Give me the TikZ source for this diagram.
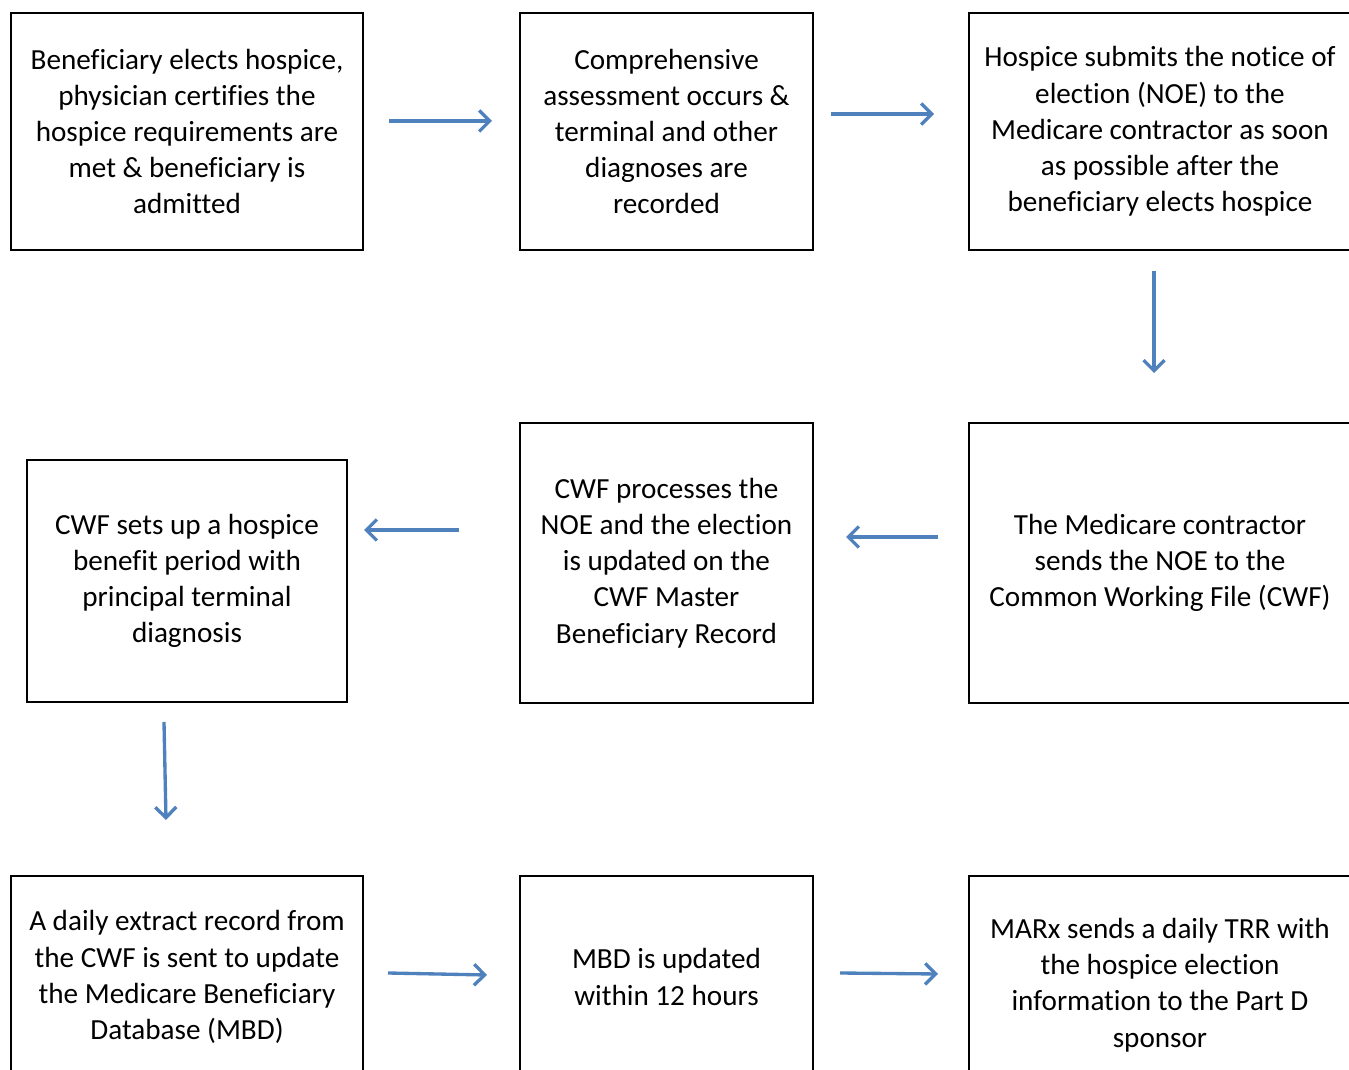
\documentclass[tikz,border=0pt]{standalone}
\usepackage{fontspec}
\setmainfont{Carlito}[Ligatures=NoCommon]
\usetikzlibrary{arrows.meta}
\definecolor{flowblue}{HTML}{4F81BD}
\tikzset{
 stepbox/.style={draw=black,line width=1.2pt,inner sep=0pt,align=center,
  font=\fontsize{16.6}{20.6}\selectfont},
 flow/.style={draw=flowblue,line width=1.9pt,-{Straight Barb[length=6pt,width=12pt,line width=1.9pt]}}
}
\begin{document}
\begin{tikzpicture}[x=0.02cm,y=-0.02cm]
 \useasboundingbox (0,0) rectangle (1349,1070);
 \clip (0,0) rectangle (1349,1070);
 % first row
 \node[stepbox,minimum width=7.04cm,minimum height=4.74cm] (elect) at (187,131.5)
  {Beneficiary elects hospice,\\physician certifies the\\hospice requirements are\\met \& beneficiary is\\admitted};
 \node[stepbox,minimum width=5.86cm,minimum height=4.74cm] (assess) at (666.5,131.5)
  {Comprehensive\\assessment occurs \&\\terminal and other\\diagnoses are\\recorded};
 \node[stepbox,minimum width=7.64cm,minimum height=4.74cm] (noe) at (1160,131.5)
  {Hospice submits the notice of\\election (NOE) to the\\Medicare contractor as soon\\as possible after the\\beneficiary elects hospice};
 % second row
 \node[stepbox,minimum width=6.4cm,minimum height=4.84cm] (period) at (187,581)
  {CWF sets up a hospice\\benefit period with\\principal terminal\\diagnosis};
 \node[stepbox,minimum width=5.86cm,minimum height=5.6cm] (cwfproc) at (666.5,563)
  {CWF processes the\\NOE and the election\\is updated on the\\CWF Master\\Beneficiary Record};
 \node[stepbox,minimum width=7.64cm,minimum height=5.6cm] (contractor) at (1160,563)
  {The Medicare contractor\\sends the NOE to the\\Common Working File (CWF)};
 % third row
 \node[stepbox,minimum width=7.04cm,minimum height=4.04cm] (extract) at (187,977)
  {A daily extract record from\\the CWF is sent to update\\the Medicare Beneficiary\\Database (MBD)};
 \node[stepbox,minimum width=5.86cm,minimum height=4.04cm] (mbd) at (666.5,977)
  {MBD is updated\\within 12 hours};
 \node[stepbox,minimum width=7.64cm,minimum height=4.36cm] (marx) at (1160,985)
  {MARx sends a daily TRR with\\the hospice election\\information to the Part D\\sponsor};
 % arrow ends
 \coordinate (a1s) at (389,121); \coordinate (a1e) at (492,121);
 \coordinate (a2s) at (831,114); \coordinate (a2e) at (934,114);
 \coordinate (a3s) at (1154,271); \coordinate (a3e) at (1154,373);
 \coordinate (a4s) at (938,537); \coordinate (a4e) at (846,537);
 \coordinate (a5s) at (459,530); \coordinate (a5e) at (364,530);
 \coordinate (a6s) at (164,722); \coordinate (a6e) at (166,820);
 \coordinate (a7s) at (388,973); \coordinate (a7e) at (487,975);
 \coordinate (a8s) at (840,973); \coordinate (a8e) at (938,974);
 \draw[flow] (a1s) -- (a1e);
 \draw[flow] (a2s) -- (a2e);
 \draw[flow] (a3s) -- (a3e);
 \draw[flow] (a4s) -- (a4e);
 \draw[flow] (a5s) -- (a5e);
 \draw[flow] (a6s) -- (a6e);
 \draw[flow] (a7s) -- (a7e);
 \draw[flow] (a8s) -- (a8e);
\end{tikzpicture}
\end{document}
